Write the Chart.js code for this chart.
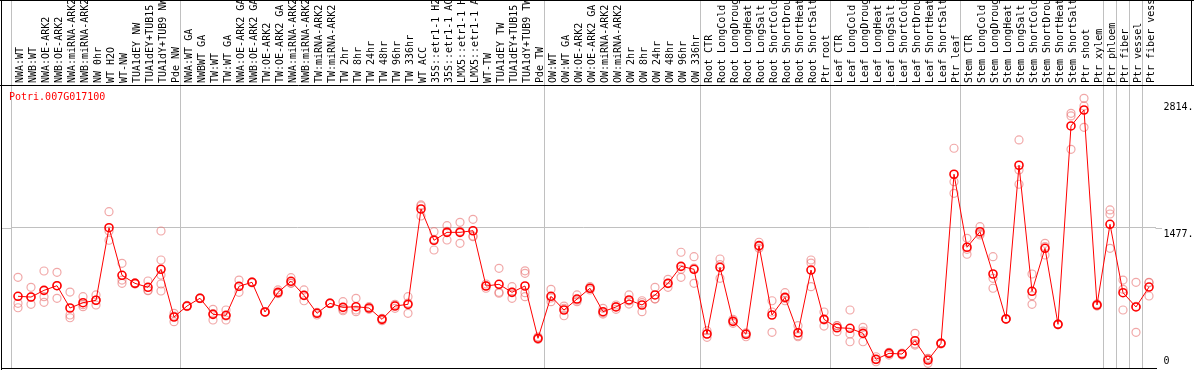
<!DOCTYPE html>
<html>
<head>
<meta charset="utf-8">
<script src="https://cdn.jsdelivr.net/npm/chart.js@4.4.1/dist/chart.umd.min.js"></script>
<style>
    html, body { margin: 0; padding: 0; background: #fff; }
    #wrap { width: 1194px; height: 370px; position: relative; }
</style>
</head>
<body>
<div id="wrap"><canvas id="exprChart" width="1194" height="370"></canvas></div>
<script>
// ========================================
// データ
// ========================================

const geneId = 'Potri.007G017100';

const categories = [
    'NWA:WT', 'NWB:WT', 'NWA:OE-ARK2', 'NWB:OE-ARK2', 'NWA:miRNA-ARK2', 'NWB:miRNA-ARK2',
    'NW 0hr', 'WT H2O', 'WT-NW', 'TUA1dEY NW', 'TUA1dEY+TUB15 NW', 'TUA1dY+TUB9 NW', 'Pde NW',
    'NWA:WT GA', 'NWBWT GA', 'TW:WT', 'TW:WT GA', 'NWA:OE-ARK2 GA', 'NWB:OE-ARK2 GA',
    'TW:OE-ARK2', 'TW:OE-ARK2 GA', 'NWA:miRNA-ARK2 GA', 'NWB:miRNA-ARK2 GA', 'TW:miRNA-ARK2',
    'TW:miRNA-ARK2', 'TW 2hr', 'TW 8hr', 'TW 24hr', 'TW 48hr', 'TW 96hr', 'TW 336hr', 'WT ACC',
    '35S::etr1-1 H2O', '35S::etr1-1 ACC', 'LMX5::etr1-1 H2O', 'LMX5::etr1-1 ACC', 'WT-TW',
    'TUA1dEY TW', 'TUA1dEY+TUB15 TW', 'TUA1dY+TUB9 TW', 'Pde TW',
    'OW:WT', 'OW:WT GA', 'OW:OE-ARK2', 'OW:OE-ARK2 GA', 'OW:miRNA-ARK2', 'OW:miRNA-ARK2',
    'OW 2hr', 'OW 8hr', 'OW 24hr', 'OW 48hr', 'OW 96hr', 'OW 336hr',
    'Root CTR', 'Root LongCold', 'Root LongDrought', 'Root LongHeat', 'Root LongSalt',
    'Root ShortCold', 'Root ShortDrought', 'Root ShortHeat', 'Root ShortSalt', 'Ptr root',
    'Leaf CTR', 'Leaf LongCold', 'Leaf LongDrought', 'Leaf LongHeat', 'Leaf LongSalt',
    'Leaf ShortCold', 'Leaf ShortDrought', 'Leaf ShortHeat', 'Leaf ShortSalt', 'Ptr leaf',
    'Stem CTR', 'Stem LongCold', 'Stem LongDrought', 'Stem LongHeat', 'Stem LongSalt',
    'Stem ShortCold', 'Stem ShortDrought', 'Stem ShortHeat', 'Stem ShortSalt', 'Ptr shoot',
    'Ptr xylem', 'Ptr phloem', 'Ptr fiber', 'Ptr vessel', 'Ptr fiber vessel'
];

// 平均値
const means = [
    754, 746, 817, 866, 630, 686, 712, 1480, 976, 891, 849, 1040, 535,
    651, 733, 563, 553, 860, 902, 588, 796, 913, 764, 574, 680, 637, 644, 630, 510, 651, 669,
    1678, 1347, 1431, 1431, 1448, 863, 881, 796, 863, 309,
    754, 609, 725, 839, 591, 641, 715, 662, 768, 891, 1071, 1040,
    355, 1061, 489, 352, 1290, 556, 743, 368, 1032, 510,
    421, 415, 362, 87, 150, 143, 284, 79, 256, 2046,
    1273, 1438, 990, 514, 2141, 807, 1262, 457, 2557, 2726,
    662, 1516, 792, 641, 852
];

// 反復データ
const rep1 = [
    955, 849, 1022, 1008, 799, 750, 768, 1650, 1103, 885, 916, 1445, 574,
    645, 728, 616, 609, 926, 897, 583, 821, 951, 821, 584, 675, 697, 733, 644, 521, 669, 750,
    1721, 1438, 1501, 1537, 1569, 884, 1050, 856, 1024, 326,
    828, 651, 768, 856, 627, 662, 768, 707, 849, 934, 1220, 1173,
    390, 1149, 510, 368, 1326, 707, 792, 443, 1138, 588,
    443, 609, 426, 114, 157, 153, 362, 44, 250, 2321,
    1368, 1491, 1173, 510, 2409, 990, 1315, 452, 2691, 2850,
    651, 1668, 926, 902, 902
];
const rep2 = [
    680, 669, 750, 733, 556, 644, 662, 1347, 926, 895, 813, 1138, 485,
    651, 733, 503, 503, 796, 902, 588, 786, 891, 707, 556, 680, 601, 591, 616, 496, 627, 574,
    1604, 1244, 1350, 1315, 1385, 839, 796, 733, 997, 299,
    697, 548, 697, 821, 566, 616, 672, 591, 725, 849, 955, 891,
    320, 944, 468, 326, 1262, 373, 707, 326, 1106, 439,
    379, 355, 273, 61, 132, 143, 238, 95, 256, 1967,
    1199, 1403, 944, 514, 2091, 669, 1191, 457, 2663, 2769,
    662, 1625, 828, 373, 757
];
const rep3 = [
    633, 746, 690, 866, 527, 665, 715, 1445, 891, 893, 818, 979, 545,
    657, 738, 571, 545, 857, 907, 593, 783, 894, 764, 581, 685, 614, 609, 630, 514, 659, 683,
    1710, 1357, 1442, 1442, 1392, 866, 786, 799, 792, 302,
    736, 627, 712, 839, 579, 644, 704, 687, 728, 890, 1040, 1053,
    355, 1090, 489, 359, 1281, 588, 731, 337, 856, 503,
    443, 273, 386, 84, 161, 132, 251, 98, 262, 1844,
    1251, 1420, 839, 518, 1940, 761, 1280, 462, 2310, 2543,
    673, 1262, 609, 647, 898
];
// 4・5番目の反復 (一部のみ)
const rep4 = categories.map((c, i) => i === 11 ? 884 : i === 39 ? 750 : null);
const rep5 = categories.map((c, i) => i === 11 ? 810 : null);

// 右軸の目盛り
const yTicks = [0, 1477, 2814];
const yTickLabels = [['0', ''], ['', '1477.'], ['', '2814.']];

// グループ区切り線 (カテゴリ境界のインデックス)
const groupBreaks = [0, 13, 41, 53, 63, 73, 84, 85, 86, 87, 88];

// ========================================
// 描画
// ========================================

const monoFont = { family: 'DejaVu Sans Mono', size: 10 };
const gridGray = '#c0c0c0';
const repColor = 'rgba(232, 110, 110, 0.6)';

// 余白を消して描画領域を固定する
function noPadding(scale) {
    scale.paddingTop = 0;
    scale.paddingBottom = 0;
    scale.paddingLeft = 0;
    scale.paddingRight = 0;
}

// 枠線とタイトル
const framePlugin = {
    id: 'frame',
    beforeDatasetsDraw(chart) {
        const ctx = chart.ctx;
        const y = Math.round(chart.scales.y.getPixelForValue(1477)) + 0.5;
        ctx.save();
        ctx.strokeStyle = gridGray;
        ctx.lineWidth = 1;
        ctx.beginPath();
        ctx.moveTo(1, y);
        ctx.lineTo(chart.chartArea.left, y);
        ctx.moveTo(chart.chartArea.right, y);
        ctx.lineTo(1162, y);
        ctx.stroke();
        ctx.restore();
    },
    afterDraw(chart) {
        const ctx = chart.ctx;
        const area = chart.chartArea;
        ctx.save();
        ctx.strokeStyle = '#000';
        ctx.lineWidth = 1;
        ctx.beginPath();
        ctx.moveTo(0, 0.5); ctx.lineTo(1194, 0.5);
        ctx.moveTo(0, 85.5); ctx.lineTo(1194, 85.5);
        ctx.moveTo(1.5, 0); ctx.lineTo(1.5, 370);
        ctx.moveTo(1191.5, 0); ctx.lineTo(1191.5, 86);
        ctx.moveTo(1, 368.5); ctx.lineTo(Math.round(area.right) + 1, 368.5);
        ctx.stroke();
        ctx.fillStyle = '#ff0000';
        ctx.font = '10px "DejaVu Sans Mono"';
        ctx.textBaseline = 'middle';
        ctx.fillText(geneId, 9, 97.5);
        ctx.restore();
    }
};

function repDataset(values) {
    return {
        data: values,
        showLine: false,
        pointRadius: 4,
        pointBorderWidth: 1.2,
        pointBorderColor: repColor,
        pointBackgroundColor: 'rgba(0,0,0,0)',
        order: 1
    };
}

new Chart(document.getElementById('exprChart'), {
    type: 'line',
    data: {
        labels: categories,
        datasets: [
            {
                data: means,
                borderColor: '#ff0000',
                borderWidth: 1,
                tension: 0,
                pointRadius: 4,
                pointBorderWidth: 1.6,
                pointBorderColor: '#ff0000',
                pointBackgroundColor: 'rgba(0,0,0,0)',
                order: 0
            },
            repDataset(rep1),
            repDataset(rep2),
            repDataset(rep3),
            repDataset(rep4),
            repDataset(rep5)
        ]
    },
    options: {
        responsive: false,
        animation: false,
        events: [],
        layout: {
            autoPadding: false,
            padding: { left: 11.5, right: 0, top: 0, bottom: 2 }
        },
        plugins: {
            legend: { display: false },
            tooltip: { enabled: false }
        },
        scales: {
            x: {
                type: 'category',
                position: 'top',
                offset: true,
                border: { display: false },
                grid: {
                    offset: true,
                    drawTicks: true,
                    tickLength: 86,
                    lineWidth: 1,
                    color: ctx => groupBreaks.includes(ctx.index) ? gridGray : 'rgba(0,0,0,0)'
                },
                ticks: {
                    autoSkip: false,
                    minRotation: 90,
                    maxRotation: 90,
                    padding: -83,
                    labelOffset: 14,
                    color: '#000',
                    font: monoFont
                },
                afterFit: scale => {
                    scale.height = 86;
                    noPadding(scale);
                }
            },
            y: {
                type: 'linear',
                position: 'right',
                min: -5,
                max: 2980,
                border: { display: false },
                grid: {
                    drawTicks: false,
                    color: ctx => ctx.tick && ctx.tick.value === 1477 ? gridGray : 'rgba(0,0,0,0)'
                },
                afterBuildTicks: scale => {
                    scale.ticks = yTicks.map(v => ({ value: v }));
                },
                ticks: {
                    padding: 8,
                    color: '#000',
                    font: monoFont,
                    callback: (value) => yTickLabels[yTicks.indexOf(value)]
                },
                afterFit: scale => {
                    scale.width = 38.5;
                    noPadding(scale);
                }
            }
        }
    },
    plugins: [framePlugin]
});
</script>
</body>
</html>
